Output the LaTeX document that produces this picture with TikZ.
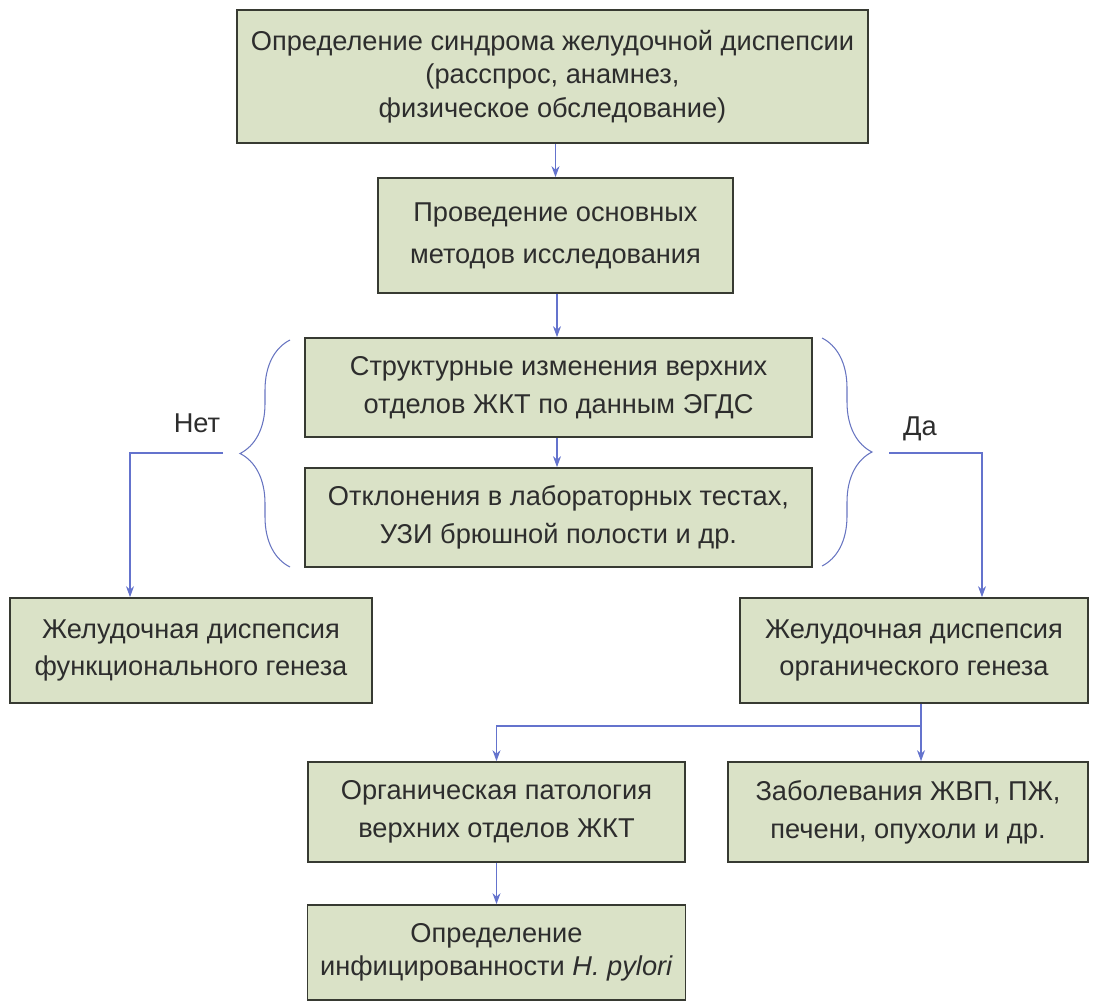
\documentclass[tikz,border=0pt]{standalone}
\usepackage{fontspec}
\setmainfont{Liberation Sans}
\usetikzlibrary{arrows.meta,decorations.pathreplacing}
\definecolor{boxfill}{RGB}{218,226,199}
\definecolor{boxline}{RGB}{55,58,50}
\definecolor{arrowblue}{RGB}{100,115,205}
\definecolor{textgray}{RGB}{45,45,45}
\tikzset{
  stepbox/.style={rectangle, draw=boxline, line width=1pt, fill=boxfill, text=textgray,
    align=center, inner sep=0pt, font=\fontsize{15.5}{21.5}\selectfont},
  lbl/.style={text=textgray, inner sep=0pt, font=\fontsize{15.5}{19}\selectfont},
  link/.style={draw=arrowblue, line width=0.6pt},
  arr/.style={link, -{Stealth[length=2.2mm,width=1.6mm]}},
  curly/.style={draw=arrowblue!85!gray, line width=0.6pt, decorate,
    decoration={brace, amplitude=1cm}},
}

\begin{document}
\begin{tikzpicture}[x=0.02cm, y=-0.02cm]
    \useasboundingbox (0,0) rectangle (1094,1001);

    \node[stepbox, minimum width=12.62cm, minimum height=2.66cm, font=\fontsize{15.5}{19}\selectfont] (synd) at (552.5,76.5)
      {Определение синдрома желудочной диспепсии\\(расспрос, анамнез,\\физическое обследование)};
    \node[stepbox, minimum width=7.1cm, minimum height=2.3cm, font=\fontsize{15.5}{24}\selectfont] (basic) at (555.5,235.5)
      {Проведение основных\\методов исследования};
    \node[stepbox, minimum width=10.14cm, minimum height=1.98cm] (struct) at (558.5,387.5)
      {Структурные изменения верхних\\отделов ЖКТ по данным ЭГДС};
    \node[stepbox, minimum width=10.14cm, minimum height=1.98cm] (lab) at (558.5,517.5)
      {Отклонения в лабораторных тестах,\\УЗИ брюшной полости и др.};
    \node[stepbox, minimum width=7.24cm, minimum height=2.1cm] (func) at (191,650.5)
      {Желудочная диспепсия\\функционального генеза};
    \node[stepbox, minimum width=6.96cm, minimum height=2.1cm] (org) at (914,650.5)
      {Желудочная диспепсия\\органического генеза};
    \node[stepbox, minimum width=7.54cm, minimum height=2cm] (upper) at (496.5,812)
      {Органическая патология\\верхних отделов ЖКТ};
    \node[stepbox, minimum width=7.2cm, minimum height=2cm] (dis) at (908,812)
      {Заболевания ЖВП, ПЖ,\\печени, опухоли и др.};
    \node[stepbox, minimum width=7.56cm, minimum height=1.9cm, font=\fontsize{15.5}{19}\selectfont] (hp) at (496.5,952.5)
      {Определение\\инфицированности \textit{H. pylori}};

    \node[lbl] (net) at (197,423) {Нет};
    \node[lbl] (da) at (920,429) {Да};

    % braces round the two findings
    \draw[curly] (290,567) -- (290,340);
    \draw[curly] (822,338) -- (822,566);
    \coordinate (netstart) at (223,453);
    \coordinate (dastart) at (889,453);
    \coordinate (split) at (921,726);
    \coordinate (midcol) at (557,0);

    \draw[arr] (synd.south -| basic) -- (basic);
    \draw[arr] (basic.south -| midcol) -- (struct.north -| midcol);
    \draw[arr] (struct.south -| midcol) -- (lab.north -| midcol);

    \draw[arr] (netstart) -| ([xshift=-1.22cm]func.north);
    \draw[arr] (dastart) -| ([xshift=1.36cm]org.north);

    \draw[link] (org.south -| split) -- (split);
    \draw[arr] (split) -- (split |- dis.north);
    \draw[arr] (split) -| (upper);
    \draw[arr] (upper) -- (hp);
\end{tikzpicture}
\end{document}
